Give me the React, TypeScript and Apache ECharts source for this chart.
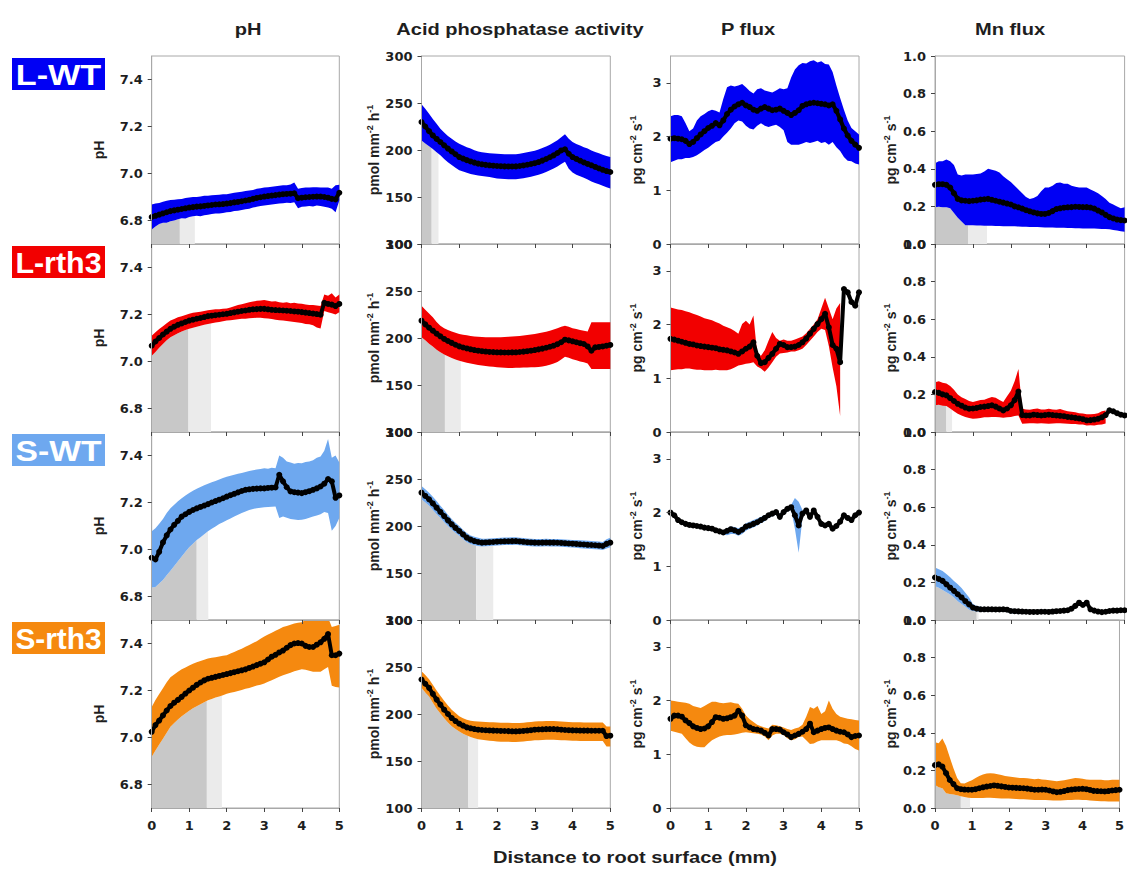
import React, { useEffect, useRef } from "react";
import * as echarts from "echarts";

// Distance to the root surface (mm), shared by every profile
const distance = [
  0, 0.1, 0.2, 0.3, 0.4, 0.5, 0.6, 0.7, 0.8, 0.9,
  1, 1.1, 1.2, 1.3, 1.4, 1.5, 1.6, 1.7, 1.8, 1.9,
  2, 2.1, 2.2, 2.3, 2.4, 2.5, 2.6, 2.7, 2.8, 2.9,
  3, 3.1, 3.2, 3.3, 3.4, 3.5, 3.6, 3.7, 3.8, 3.9,
  4, 4.1, 4.2, 4.3, 4.4, 4.5, 4.6, 4.7, 4.8, 4.9,
  5,
];

// ---------- L-WT ----------
const phLwtMean = [6.815,6.82,6.825,6.83,6.835,6.84,6.843,6.846,6.849,6.852,6.855,6.857,6.859,6.86,6.862,6.864,6.866,6.868,6.869,6.87,6.872,6.874,6.877,6.879,6.882,6.885,6.888,6.892,6.896,6.899,6.902,6.904,6.906,6.908,6.91,6.912,6.913,6.914,6.916,6.895,6.897,6.899,6.9,6.901,6.902,6.902,6.9,6.897,6.892,6.89,6.918];
const phLwtLow = [6.762,6.775,6.785,6.79,6.79,6.797,6.8,6.805,6.81,6.808,6.815,6.818,6.82,6.818,6.822,6.825,6.828,6.83,6.83,6.832,6.835,6.836,6.84,6.842,6.845,6.848,6.85,6.855,6.858,6.862,6.864,6.866,6.868,6.87,6.872,6.873,6.876,6.875,6.878,6.852,6.858,6.86,6.862,6.86,6.864,6.862,6.858,6.855,6.85,6.835,6.885];
const phLwtHigh = [6.868,6.872,6.875,6.88,6.884,6.887,6.888,6.89,6.892,6.896,6.898,6.9,6.9,6.902,6.905,6.905,6.907,6.909,6.91,6.912,6.912,6.915,6.918,6.92,6.922,6.926,6.928,6.93,6.935,6.937,6.94,6.942,6.944,6.946,6.948,6.95,6.95,6.953,6.962,6.935,6.938,6.94,6.94,6.942,6.942,6.94,6.94,6.94,6.935,6.95,6.952];

const acidLwtMean = [229.8,225,220,215.5,211.8,208.5,205,201.5,198.5,195.5,192.5,190.8,189.2,187.8,186.6,185.5,184.8,184.2,183.7,183.3,183,182.8,182.6,182.5,182.5,182.6,183,183.6,184.3,185.1,186,187.2,188.7,190.4,192.3,194.3,196.8,199.5,200.8,196,192.5,190.5,188.6,186.8,185.2,183.7,182,180.4,178.9,177.6,176.6];
const acidLwtLow = [210,207,204,201,197.5,194.3,190.5,187,184,181,178.4,177,175.8,174.6,173.6,173,172.4,171.8,171.2,170.6,169.8,169.4,169.1,169,168.9,169,169.4,170,170.8,171.6,172.5,173.6,175,176.7,178.4,180.2,182.5,185,187.5,180,176,173.8,172,170.4,168.5,166.5,165,163.5,162,160.5,159];
const acidLwtHigh = [248.6,244,238.5,233,228,222.7,218.5,215,212,209,206.7,204.8,203,201.5,199.8,198.3,197.5,197,196.5,196.2,196,195.8,195.6,195.5,195.5,195.6,196,196.7,197.5,198.3,199.2,200.5,202,203.7,205.7,208,210.5,213.5,216.8,212,208.5,206.5,204.8,203,201.5,199.5,198,196.5,195,193.5,192.5];

const pLwtMean = [1.96,1.97,1.96,1.95,1.92,1.86,1.9,1.97,2.04,2.1,2.16,2.2,2.25,2.21,2.3,2.42,2.5,2.56,2.6,2.63,2.58,2.55,2.5,2.48,2.52,2.55,2.52,2.49,2.5,2.52,2.48,2.44,2.4,2.44,2.49,2.57,2.6,2.62,2.63,2.62,2.61,2.6,2.58,2.6,2.48,2.32,2.15,2.02,1.92,1.85,1.79];
const pLwtLow = [1.52,1.55,1.58,1.58,1.6,1.6,1.62,1.65,1.7,1.75,1.79,1.85,1.9,1.92,2.0,2.07,2.15,2.25,2.3,2.28,2.2,2.15,2.13,2.2,2.25,2.2,2.18,2.2,2.22,2.18,2.12,1.9,1.85,1.85,1.85,1.87,1.9,1.88,1.9,1.92,1.88,1.9,1.85,1.9,1.8,1.73,1.62,1.55,1.54,1.5,1.48];
const pLwtHigh = [2.38,2.4,2.4,2.38,2.25,2.1,2.15,2.3,2.38,2.42,2.47,2.5,2.48,2.45,2.7,2.92,2.95,2.93,2.95,2.98,2.92,2.85,2.8,2.88,2.9,2.86,2.84,2.82,2.86,2.9,2.88,2.9,3.1,3.25,3.33,3.37,3.36,3.4,3.42,3.38,3.4,3.35,3.34,3.2,2.95,2.72,2.5,2.3,2.16,2.1,2.04];

const mnLwtMean = [0.315,0.318,0.318,0.315,0.3,0.27,0.24,0.232,0.23,0.228,0.23,0.232,0.236,0.238,0.24,0.235,0.23,0.225,0.22,0.215,0.21,0.2,0.195,0.188,0.18,0.174,0.168,0.163,0.16,0.16,0.165,0.175,0.186,0.19,0.193,0.195,0.196,0.198,0.197,0.196,0.196,0.194,0.188,0.178,0.168,0.155,0.143,0.136,0.13,0.127,0.125];
const mnLwtLow = [0.196,0.198,0.196,0.195,0.19,0.165,0.14,0.12,0.1,0.1,0.1,0.098,0.098,0.097,0.097,0.097,0.096,0.096,0.095,0.095,0.094,0.094,0.093,0.092,0.092,0.09,0.09,0.09,0.089,0.088,0.088,0.088,0.087,0.086,0.086,0.085,0.085,0.084,0.084,0.083,0.082,0.082,0.082,0.081,0.08,0.08,0.078,0.075,0.072,0.068,0.065];
const mnLwtHigh = [0.43,0.44,0.44,0.45,0.44,0.42,0.37,0.365,0.37,0.37,0.37,0.372,0.375,0.385,0.4,0.395,0.39,0.38,0.36,0.345,0.33,0.31,0.29,0.27,0.25,0.24,0.245,0.255,0.28,0.3,0.3,0.31,0.325,0.327,0.32,0.32,0.31,0.305,0.3,0.3,0.3,0.29,0.28,0.27,0.255,0.24,0.22,0.21,0.2,0.19,0.195];

// ---------- L-rth3 ----------
const phLrthMean = [7.067,7.085,7.1,7.115,7.127,7.139,7.148,7.156,7.162,7.168,7.174,7.178,7.182,7.185,7.189,7.193,7.195,7.197,7.199,7.201,7.203,7.206,7.209,7.212,7.215,7.217,7.22,7.222,7.223,7.224,7.224,7.222,7.22,7.219,7.218,7.217,7.216,7.215,7.213,7.212,7.21,7.208,7.206,7.204,7.202,7.199,7.25,7.245,7.242,7.236,7.245];
const phLrthLow = [7.024,7.04,7.058,7.075,7.09,7.103,7.112,7.12,7.128,7.134,7.139,7.144,7.148,7.152,7.156,7.16,7.163,7.166,7.168,7.171,7.174,7.176,7.178,7.18,7.182,7.182,7.184,7.185,7.186,7.186,7.184,7.183,7.181,7.178,7.176,7.175,7.172,7.17,7.168,7.166,7.164,7.16,7.158,7.154,7.145,7.14,7.215,7.21,7.205,7.2,7.21];
const phLrthHigh = [7.11,7.125,7.138,7.15,7.163,7.174,7.181,7.188,7.193,7.198,7.203,7.207,7.21,7.212,7.215,7.218,7.22,7.222,7.222,7.224,7.226,7.23,7.235,7.24,7.244,7.248,7.252,7.255,7.258,7.26,7.262,7.258,7.255,7.256,7.252,7.25,7.252,7.248,7.25,7.247,7.246,7.243,7.24,7.24,7.238,7.236,7.285,7.28,7.29,7.272,7.285];

const acidLrthMean = [218.4,214.5,211,207.8,204.6,201.8,199,196.8,194.8,192.8,191.1,189.9,188.9,188,187.2,186.5,186,185.6,185.2,185,184.8,184.7,184.6,184.6,184.7,184.8,185.1,185.5,186,186.5,187.2,187.9,188.7,189.6,190.7,191.8,193.4,195.5,198.2,197.5,196.5,195.5,194.5,193.6,191,186.5,190,190.5,191,191.8,192.6];
const acidLrthLow = [200.7,197.5,194,191,187.5,184.8,182.5,180.5,178.8,177.2,175.9,174.8,173.8,172.9,172,171.3,170.7,170.2,169.8,169.3,168.8,168.5,168.3,168.2,168.2,168.3,168.4,168.5,168.7,168.8,168.8,169.2,169.7,170.5,171.5,172.8,174.5,177,180,179,177.5,176.2,175,174.1,173,167,167,167,167,167,167];
const acidLrthHigh = [234.4,230,226,222,217,213,210.5,208.5,207,205.5,204.3,203.5,202.8,202.2,201.6,201.2,201,200.8,200.7,200.7,200.7,200.8,201,201.2,201.5,201.8,202.2,202.7,203.2,203.7,204.3,205,205.8,206.7,207.8,209,210.5,212,213,212,210.5,209.5,208.5,207.8,207,216.7,216.7,216.7,216.7,216.7,216.7];

const pLrthMean = [1.734,1.72,1.7,1.68,1.66,1.64,1.63,1.61,1.6,1.59,1.58,1.57,1.56,1.54,1.53,1.52,1.5,1.48,1.456,1.5,1.55,1.59,1.67,1.42,1.28,1.3,1.38,1.456,1.55,1.64,1.62,1.58,1.58,1.59,1.62,1.67,1.74,1.83,1.92,2.01,2.1,2.2,1.95,1.62,1.55,1.3,2.66,2.6,2.42,2.35,2.6];
const pLrthLow = [1.15,1.16,1.17,1.17,1.18,1.18,1.17,1.16,1.16,1.15,1.15,1.15,1.16,1.15,1.15,1.15,1.17,1.2,1.24,1.25,1.27,1.28,1.3,1.22,1.18,1.12,1.2,1.3,1.4,1.46,1.47,1.48,1.5,1.5,1.52,1.55,1.62,1.7,1.78,1.86,1.92,1.9,1.6,1.2,0.85,0.3,null,null,null,null,null];
const pLrthHigh = [2.32,2.3,2.28,2.27,2.25,2.23,2.2,2.18,2.15,2.12,2.1,2.08,2.05,2.02,1.98,1.95,1.92,1.88,1.83,2.01,2.07,2.0,2.17,1.45,1.42,1.52,1.7,1.86,1.75,1.7,1.72,1.7,1.7,1.72,1.75,1.78,1.84,1.92,2.0,2.1,2.3,2.5,2.3,2.1,2.3,2.4,null,null,null,null,null];

const mnLrthMean = [0.212,0.208,0.2,0.195,0.18,0.165,0.15,0.14,0.13,0.124,0.125,0.128,0.133,0.135,0.138,0.142,0.135,0.125,0.115,0.125,0.142,0.17,0.215,0.09,0.088,0.088,0.092,0.09,0.088,0.09,0.092,0.09,0.088,0.086,0.084,0.08,0.078,0.075,0.072,0.068,0.062,0.063,0.066,0.07,0.078,0.09,0.115,0.11,0.1,0.092,0.088];
const mnLrthLow = [0.142,0.145,0.14,0.138,0.125,0.11,0.097,0.088,0.08,0.075,0.07,0.072,0.075,0.078,0.078,0.08,0.08,0.078,0.076,0.078,0.08,0.085,0.088,0.044,0.045,0.046,0.046,0.045,0.046,0.045,0.044,0.045,0.046,0.046,0.045,0.044,0.042,0.042,0.04,0.04,0.035,0.036,0.035,0.038,0.04,0.045,null,null,null,null,null];
const mnLrthHigh = [0.265,0.27,0.262,0.258,0.245,0.225,0.2,0.185,0.175,0.165,0.16,0.165,0.17,0.172,0.18,0.186,0.182,0.17,0.16,0.19,0.22,0.27,0.335,0.124,0.12,0.118,0.122,0.125,0.12,0.12,0.124,0.12,0.118,0.122,0.116,0.11,0.108,0.105,0.1,0.098,0.095,0.094,0.096,0.1,0.11,0.115,null,null,null,null,null];

// ---------- S-WT ----------
const phSwtMean = [6.965,6.958,6.99,7.03,7.06,7.085,7.105,7.122,7.14,7.15,7.16,7.168,7.175,7.181,7.187,7.193,7.2,7.206,7.212,7.218,7.225,7.231,7.237,7.243,7.249,7.254,7.256,7.258,7.259,7.26,7.26,7.262,7.263,7.264,7.318,7.29,7.265,7.247,7.244,7.242,7.24,7.244,7.248,7.254,7.26,7.268,7.28,7.3,7.29,7.22,7.23];
const phSwtLow = [6.838,6.84,6.855,6.87,6.89,6.91,6.93,6.95,6.97,6.99,7.01,7.025,7.04,7.052,7.065,7.078,7.088,7.098,7.108,7.116,7.124,7.132,7.14,7.148,7.155,7.162,7.168,7.172,7.176,7.178,7.18,7.181,7.182,7.183,7.134,7.14,7.135,7.13,7.128,7.126,7.127,7.13,7.135,7.14,7.145,7.15,7.16,7.155,7.08,7.1,7.134];
const phSwtHigh = [7.078,7.09,7.11,7.13,7.155,7.176,7.19,7.205,7.218,7.23,7.24,7.25,7.258,7.266,7.273,7.28,7.286,7.292,7.298,7.304,7.31,7.314,7.318,7.322,7.326,7.33,7.334,7.337,7.34,7.343,7.346,7.344,7.348,7.346,7.4,7.39,7.375,7.37,7.365,7.368,7.367,7.372,7.375,7.38,7.39,7.396,7.42,7.47,7.39,7.4,7.37];

const acidSwtMean = [235.5,232,228.4,224,219.5,215,210.6,206,201.8,198,194.7,191,187.6,185.5,184,183,182.3,182.5,182.8,183,183.3,183.5,183.7,183.8,183.9,184,183.6,183.2,182.8,182.5,182.3,182.2,182.3,182.4,182.3,182.3,182.2,182,181.7,181.4,181.2,180.9,180.6,180.3,180,179.8,179.5,179.2,178.7,181,182.3];
const acidSwtLow = [228.4,225,221.5,217,212.5,208.5,204,200,196,192.5,189.5,186,182.8,180.8,179.5,178.7,178.2,178.5,178.8,179,179.3,179.5,179.7,179.8,179.9,180,179.6,179.2,178.8,178.5,178.3,178.2,178.3,178.4,178.3,178.3,178.2,178,177.7,177.4,177.2,176.8,176.4,176,175.7,175.5,175.2,175,174.5,176,177.5];
const acidSwtHigh = [242.6,239,235.5,231,226.5,221.5,217,212,207.5,203.5,200,196,192.5,190,188.5,187.5,186.5,186.5,186.8,187,187.3,187.5,187.7,187.8,187.9,188,187.6,187.2,186.8,186.5,186.3,186.2,186.3,186.4,186.3,186.3,186.2,186,185.7,185.4,185.2,185,184.8,184.5,184.3,184,183.8,183.5,183,186,187.5];

const pSwtMean = [2.0,1.95,1.86,1.82,1.79,1.77,1.76,1.75,1.74,1.72,1.71,1.7,1.67,1.65,1.63,1.66,1.69,1.67,1.64,1.68,1.74,1.76,1.79,1.82,1.86,1.9,1.95,1.98,2.01,1.92,2.01,2.07,2.1,1.95,1.76,1.98,2.04,1.92,2.04,1.92,1.79,1.76,1.79,1.7,1.75,1.83,1.95,1.9,1.86,1.95,2.0];
const pSwtLow = [1.97,1.92,1.83,1.79,1.76,1.74,1.73,1.72,1.71,1.69,1.68,1.67,1.64,1.62,1.59,1.58,1.6,1.6,1.57,1.6,1.66,1.7,1.72,1.76,1.8,1.84,1.9,1.93,1.96,1.86,1.96,2.02,2.05,1.7,1.25,1.9,null,null,null,null,null,null,null,null,null,null,null,null,null,null,null];
const pSwtHigh = [2.03,1.98,1.89,1.85,1.82,1.8,1.79,1.78,1.77,1.75,1.74,1.73,1.7,1.68,1.67,1.71,1.74,1.73,1.71,1.74,1.8,1.83,1.86,1.89,1.92,1.95,1.99,2.02,2.05,1.98,2.05,2.1,2.14,2.27,2.2,2.05,null,null,null,null,null,null,null,null,null,null,null,null,null,null,null];

const mnSwtMean = [0.226,0.218,0.208,0.19,0.172,0.155,0.137,0.12,0.1,0.083,0.066,0.06,0.057,0.057,0.057,0.057,0.056,0.056,0.057,0.055,0.048,0.047,0.046,0.045,0.044,0.043,0.043,0.043,0.044,0.044,0.043,0.045,0.047,0.048,0.05,0.052,0.06,0.075,0.092,0.08,0.092,0.057,0.05,0.045,0.042,0.044,0.048,0.05,0.05,0.052,0.052];
const mnSwtLow = [0.18,0.172,0.16,0.148,0.135,0.12,0.1,0.085,0.07,0.055,0.048,0.045,0.044,0.045,0.045,0.045,0.044,0.044,0.044,0.042,0.036,0.035,0.035,0.034,0.033,0.032,0.032,0.032,0.033,0.033,0.033,0.035,0.037,null,null,null,null,null,null,null,null,null,null,null,null,null,null,null,null,null,null];
const mnSwtHigh = [0.279,0.27,0.26,0.245,0.228,0.208,0.19,0.17,0.145,0.12,0.085,0.075,0.07,0.068,0.068,0.068,0.066,0.066,0.066,0.064,0.06,0.058,0.056,0.055,0.054,0.053,0.053,0.053,0.054,0.054,0.053,0.054,0.056,null,null,null,null,null,null,null,null,null,null,null,null,null,null,null,null,null,null];

// ---------- S-rth3 ----------
const phSrthMean = [7.024,7.053,7.072,7.094,7.115,7.134,7.148,7.16,7.173,7.187,7.2,7.212,7.224,7.234,7.243,7.25,7.254,7.258,7.262,7.266,7.27,7.274,7.278,7.282,7.286,7.29,7.296,7.302,7.308,7.314,7.32,7.332,7.344,7.352,7.362,7.37,7.382,7.393,7.4,7.402,7.4,7.39,7.385,7.385,7.395,7.405,7.42,7.44,7.35,7.35,7.357];
const phSrthLow = [6.918,6.945,6.97,6.995,7.02,7.046,7.062,7.077,7.09,7.102,7.114,7.124,7.133,7.142,7.15,7.158,7.164,7.17,7.175,7.18,7.186,7.19,7.194,7.198,7.202,7.207,7.211,7.216,7.221,7.225,7.23,7.237,7.244,7.251,7.258,7.265,7.27,7.276,7.282,7.286,7.29,7.288,7.284,7.28,7.28,7.28,7.29,7.3,7.22,7.215,7.213];
const phSrthHigh = [7.13,7.16,7.185,7.21,7.235,7.256,7.268,7.28,7.29,7.298,7.306,7.314,7.32,7.326,7.331,7.336,7.339,7.342,7.345,7.348,7.35,7.357,7.364,7.371,7.378,7.386,7.394,7.402,7.41,7.42,7.43,7.438,7.446,7.454,7.462,7.47,7.475,7.48,7.485,7.488,7.49,7.5,7.51,7.51,7.52,7.52,7.52,7.51,7.47,7.475,7.48];

const acidSrthMean = [236.7,232.2,227.8,221.5,215.3,210,204.6,200,195.7,192.5,189.7,187.6,185.8,184.8,184,183.3,183,182.7,182.5,182.3,182.2,182,181.9,181.8,181.6,181.5,181.7,182,182.4,182.8,183.3,183.5,183.7,183.9,184,184,183.7,183.3,183,182.8,182.6,182.5,182.4,182.3,182.3,182.2,182.2,182.2,182.2,176.5,176.9];
const acidSrthLow = [227.8,223,218.5,212,205.5,200.5,195.5,191,187,184,181.5,179,177,175.5,174.2,173.2,172.5,172,171.6,171.2,170.8,170.6,170.5,170.4,170.3,170.3,170.5,170.8,171.2,171.6,172,172.2,172.4,172.5,172.6,172.6,172.4,172.2,172,171.8,171.6,171.5,171.4,171.4,171.4,171.4,171.4,171.4,171.4,165.5,165.5];
const acidSrthHigh = [245.6,241.5,237,231,225,219.5,214,209,204.5,201,197.5,195.5,193.8,192.8,192.2,192,191.8,191.5,191.3,191.1,191,190.8,190.7,190.6,190.4,190.3,190.5,190.8,191.2,191.6,192,192.2,192.4,192.5,192.6,192.6,192.4,192,191.7,191.5,191.3,191.2,191.1,191,191,191,191,191,191,186.8,186.8];

const pSrthMean = [1.66,1.72,1.72,1.7,1.63,1.58,1.52,1.49,1.47,1.48,1.52,1.6,1.69,1.68,1.66,1.67,1.69,1.72,1.81,1.72,1.54,1.5,1.47,1.46,1.44,1.4,1.35,1.47,1.47,1.46,1.41,1.37,1.32,1.35,1.38,1.42,1.47,1.57,1.41,1.44,1.47,1.49,1.5,1.47,1.44,1.42,1.41,1.37,1.32,1.34,1.35];
const pSrthLow = [1.44,1.42,1.4,1.38,1.3,1.22,1.17,1.14,1.13,1.13,1.2,1.26,1.3,1.33,1.35,1.36,1.36,1.37,1.38,1.4,1.41,1.4,1.39,1.38,1.37,1.33,1.26,1.35,1.38,1.38,1.36,1.3,1.26,1.28,1.32,1.33,1.26,1.19,1.2,1.24,1.26,1.26,1.26,1.26,1.26,1.24,1.2,1.19,1.15,1.1,1.07];
const pSrthHigh = [2.0,1.99,1.98,1.97,1.96,1.94,1.9,1.88,1.86,1.9,1.94,1.98,1.98,1.96,1.95,1.96,1.97,1.95,1.94,1.85,1.72,1.65,1.6,1.55,1.52,1.5,1.48,1.55,1.54,1.52,1.5,1.47,1.45,1.48,1.5,1.55,1.7,1.88,1.85,1.9,1.75,1.8,2.0,1.85,1.75,1.7,1.68,1.66,1.65,1.64,1.63];

const mnSrthMean = [0.228,0.232,0.22,0.185,0.149,0.127,0.105,0.1,0.098,0.097,0.097,0.1,0.105,0.11,0.114,0.117,0.12,0.118,0.115,0.112,0.109,0.108,0.107,0.106,0.105,0.103,0.1,0.097,0.097,0.098,0.097,0.093,0.088,0.084,0.086,0.09,0.095,0.098,0.1,0.101,0.102,0.1,0.096,0.091,0.09,0.089,0.088,0.09,0.093,0.095,0.097];
const mnSrthLow = [0.123,0.11,0.105,0.079,0.075,0.072,0.068,0.063,0.058,0.055,0.053,0.053,0.053,0.053,0.054,0.054,0.053,0.052,0.051,0.05,0.05,0.049,0.048,0.047,0.046,0.045,0.044,0.043,0.042,0.042,0.042,0.041,0.04,0.04,0.04,0.041,0.042,0.043,0.044,0.044,0.043,0.042,0.04,0.038,0.037,0.036,0.036,0.035,0.035,0.035,0.035];
const mnSrthHigh = [0.35,0.345,0.37,0.33,0.27,0.211,0.16,0.132,0.13,0.14,0.148,0.16,0.17,0.178,0.183,0.185,0.183,0.18,0.175,0.17,0.168,0.165,0.162,0.16,0.16,0.158,0.155,0.153,0.155,0.152,0.15,0.148,0.145,0.142,0.145,0.148,0.152,0.155,0.16,0.158,0.155,0.152,0.15,0.15,0.15,0.15,0.148,0.148,0.15,0.15,0.15];

// Root-influenced zones (mm): [dark zone end, light zone end] for each line
const phZones = [[0.75, 1.15], [0.98, 1.58], [1.2, 1.51], [1.47, 1.87]];
const acidZones = [[0.27, 0.45], [0.62, 1.04], [1.45, 1.9], [1.24, 1.5]];
const mnZones = [[0.87, 1.37], [0.3, 0.45], [1.1, 1.15], [0.7, 0.95]];

// Tick labels
const phTicks = [6.8, 7.0, 7.2, 7.4];
const acidTicks = [100, 150, 200, 250, 300];
const fluxTicks = [0, 1, 2, 3];
const mnTicks = [0, 0.2, 0.4, 0.6, 0.8, 1.0];

const lineNames = ["L-WT", "L-rth3", "S-WT", "S-rth3"];
const lineColors = ["#0000f4", "#f20000", "#6ea8ef", "#f5890f"];
const columnTitles = ["pH", "Acid phosphatase activity", "P flux", "Mn flux"];

const ARIAL = '"Liberation Sans", Arial, Helvetica, sans-serif';
const WIDE = '"DejaVu Sans", Verdana, sans-serif';
const INK = "#1e1e1e";

const colLeft = [151.7, 421.5, 670.5, 935];
const colWidth = [187.6, 188.8, 188.5, 189.6];
const rowTop = [56, 244, 432, 620];
const rowHeight = 188;
const titleX = [248, 520, 748, 1010];
const unitX = [99, 374, 637, 891];
const nameStretch = [1.18, 1.05, 1.16, 1.03];

const columnAxes = [
  { min: 6.7, max: 7.5, ticks: phTicks, digits: 1 },
  { min: 100, max: 300, ticks: acidTicks, digits: 0 },
  { min: 0, max: 3.5, ticks: fluxTicks, digits: 0 },
  { min: 0, max: 1, ticks: mnTicks, digits: 1 },
];

type Panel = {
  row: number;
  col: number;
  mean: number[];
  low: (number | null)[];
  high: (number | null)[];
  zone: number[] | null;
};

const panels: Panel[] = [
  { row: 0, col: 0, mean: phLwtMean, low: phLwtLow, high: phLwtHigh, zone: phZones[0] },
  { row: 0, col: 1, mean: acidLwtMean, low: acidLwtLow, high: acidLwtHigh, zone: acidZones[0] },
  { row: 0, col: 2, mean: pLwtMean, low: pLwtLow, high: pLwtHigh, zone: null },
  { row: 0, col: 3, mean: mnLwtMean, low: mnLwtLow, high: mnLwtHigh, zone: mnZones[0] },
  { row: 1, col: 0, mean: phLrthMean, low: phLrthLow, high: phLrthHigh, zone: phZones[1] },
  { row: 1, col: 1, mean: acidLrthMean, low: acidLrthLow, high: acidLrthHigh, zone: acidZones[1] },
  { row: 1, col: 2, mean: pLrthMean, low: pLrthLow, high: pLrthHigh, zone: null },
  { row: 1, col: 3, mean: mnLrthMean, low: mnLrthLow, high: mnLrthHigh, zone: mnZones[1] },
  { row: 2, col: 0, mean: phSwtMean, low: phSwtLow, high: phSwtHigh, zone: phZones[2] },
  { row: 2, col: 1, mean: acidSwtMean, low: acidSwtLow, high: acidSwtHigh, zone: acidZones[2] },
  { row: 2, col: 2, mean: pSwtMean, low: pSwtLow, high: pSwtHigh, zone: null },
  { row: 2, col: 3, mean: mnSwtMean, low: mnSwtLow, high: mnSwtHigh, zone: mnZones[2] },
  { row: 3, col: 0, mean: phSrthMean, low: phSrthLow, high: phSrthHigh, zone: phZones[3] },
  { row: 3, col: 1, mean: acidSrthMean, low: acidSrthLow, high: acidSrthHigh, zone: acidZones[3] },
  { row: 3, col: 2, mean: pSrthMean, low: pSrthLow, high: pSrthHigh, zone: null },
  { row: 3, col: 3, mean: mnSrthMean, low: mnSrthLow, high: mnSrthHigh, zone: mnZones[3] },
];

// Linear interpolation of a profile at an arbitrary distance
function valueAt(arr: (number | null)[], d: number): number {
  let j = 0;
  while (j < distance.length - 2 && distance[j + 1] < d) j++;
  const a = arr[j] as number;
  const b = arr[j + 1] as number;
  const t = (d - distance[j]) / (distance[j + 1] - distance[j]);
  return a + (b - a) * t;
}

// Points of the lower band edge between two distances (for the shaded root zone)
function zoneSegment(low: (number | null)[], from: number, to: number) {
  const pts: number[][] = [[from, valueAt(low, from)]];
  distance.forEach((d, i) => {
    if (d > from + 1e-6 && d < to - 1e-6) pts.push([d, low[i] as number]);
  });
  pts.push([to, valueAt(low, to)]);
  return pts;
}

// Draws the low–high envelope as filled polygons, broken where the envelope is missing
function bandRenderer(p: Panel, color: string) {
  return (_params: any, api: any) => {
    const children: any[] = [];
    let upper: number[][] = [];
    let lower: number[][] = [];
    const flush = () => {
      if (upper.length > 1) {
        children.push({
          type: "polygon",
          shape: { points: upper.concat(lower.slice().reverse()) },
          style: { fill: color },
        });
      }
      upper = [];
      lower = [];
    };
    distance.forEach((d, i) => {
      const lo = p.low[i];
      const hi = p.high[i];
      if (lo == null || hi == null) {
        flush();
        return;
      }
      upper.push(api.coord([d, hi]));
      lower.push(api.coord([d, lo]));
    });
    flush();
    return { type: "group", children };
  };
}

function unitText(col: number) {
  if (col === 0) return "{a|pH}";
  if (col === 1) return "{a|pmol mm}{s|-2}{a| h}{s|-1}";
  return "{a|pg cm}{s|-2}{a| s}{s|-1}";
}

function buildOption() {
  const grid: any[] = [];
  const xAxis: any[] = [];
  const yAxis: any[] = [];
  const series: any[] = [];

  panels.forEach((p, k) => {
    const ax = columnAxes[p.col];
    const color = lineColors[p.row];
    grid.push({
      left: colLeft[p.col],
      top: rowTop[p.row],
      width: colWidth[p.col],
      height: rowHeight,
      show: true,
      borderColor: "#a8a8a8",
      borderWidth: 1,
      backgroundColor: "transparent",
    });
    xAxis.push({
      gridIndex: k,
      type: "value",
      min: 0,
      max: 5,
      interval: 1,
      z: 5,
      axisLine: { show: true, lineStyle: { color: "#a8a8a8", width: 1 } },
      axisTick: { show: true, inside: false, length: 4, lineStyle: { color: "#444" } },
      axisLabel: {
        show: p.row === 3,
        margin: 11,
        fontFamily: WIDE,
        fontWeight: "bold",
        fontSize: 13,
        color: INK,
      },
      splitLine: { show: false },
    });
    yAxis.push({
      gridIndex: k,
      type: "value",
      min: ax.min,
      max: ax.max,
      z: 5,
      axisLine: { show: true, lineStyle: { color: "#a8a8a8", width: 1 } },
      axisTick: {
        show: true,
        inside: false,
        length: 4,
        customValues: ax.ticks,
        lineStyle: { color: "#444" },
      },
      axisLabel: {
        show: true,
        customValues: ax.ticks,
        margin: 9,
        fontFamily: WIDE,
        fontWeight: "bold",
        fontSize: 13,
        color: INK,
        formatter: (v: number) => v.toFixed(ax.digits),
      },
      splitLine: { show: false },
    });

    // shaded root zones beneath the envelope
    if (p.zone) {
      series.push({
        type: "line",
        xAxisIndex: k,
        yAxisIndex: k,
        data: zoneSegment(p.low, 0, p.zone[0]),
        symbol: "none",
        lineStyle: { width: 0, opacity: 0 },
        areaStyle: { color: "#c8c8c8", opacity: 1, origin: "start" },
        silent: true,
        z: 1,
      });
      series.push({
        type: "line",
        xAxisIndex: k,
        yAxisIndex: k,
        data: zoneSegment(p.low, p.zone[0], p.zone[1]),
        symbol: "none",
        lineStyle: { width: 0, opacity: 0 },
        areaStyle: { color: "#ebebeb", opacity: 1, origin: "start" },
        silent: true,
        z: 1,
      });
    }

    // variability envelope
    series.push({
      type: "custom",
      xAxisIndex: k,
      yAxisIndex: k,
      data: [[0, ax.min]],
      clip: true,
      silent: true,
      renderItem: bandRenderer(p, color),
      z: 2,
    });

    // mean profile
    series.push({
      type: "line",
      xAxisIndex: k,
      yAxisIndex: k,
      data: distance.map((d, i) => [d, p.mean[i]]),
      symbol: "circle",
      symbolSize: 6,
      showSymbol: true,
      itemStyle: { color: "#000" },
      lineStyle: { color: "#000", width: 4 },
      silent: true,
      z: 3,
    });
  });

  const graphic: any[] = [];
  columnTitles.forEach((t, c) => {
    graphic.push({
      type: "text",
      x: titleX[c],
      y: 29,
      scaleX: 1.18,
      style: {
        text: t,
        fontFamily: ARIAL,
        fontWeight: "bold",
        fontSize: 17,
        fill: INK,
        align: "center",
        verticalAlign: "middle",
        textAlign: "center",
        textVerticalAlign: "middle",
      },
    });
  });
  lineNames.forEach((name, r) => {
    graphic.push({
      type: "rect",
      shape: { x: 12, y: rowTop[r] + 2, width: 93, height: 32 },
      style: { fill: lineColors[r] },
    });
    graphic.push({
      type: "text",
      x: 58.5,
      y: rowTop[r] + 19,
      scaleX: nameStretch[r],
      style: {
        text: name,
        fontFamily: ARIAL,
        fontWeight: "bold",
        fontSize: 29,
        fill: "#ffffff",
        align: "center",
        verticalAlign: "middle",
        textAlign: "center",
        textVerticalAlign: "middle",
      },
    });
    for (let c = 0; c < 4; c++) {
      graphic.push({
        type: "text",
        x: unitX[c],
        y: rowTop[r] + rowHeight / 2,
        rotation: Math.PI / 2,
        style: {
          text: unitText(c),
          align: "center",
          verticalAlign: "middle",
          textAlign: "center",
          textVerticalAlign: "middle",
          rich: {
            a: { fontFamily: ARIAL, fontWeight: "bold", fontSize: 14, fill: INK, color: INK, lineHeight: 18 },
            s: { fontFamily: ARIAL, fontWeight: "bold", fontSize: 9, fill: INK, color: INK, lineHeight: 11, verticalAlign: "top" },
          },
        },
      });
    }
  });
  graphic.push({
    type: "text",
    x: 635,
    y: 857,
    scaleX: 1.18,
    style: {
      text: "Distance to root surface (mm)",
      fontFamily: ARIAL,
      fontWeight: "bold",
      fontSize: 17,
      fill: INK,
      align: "center",
      verticalAlign: "middle",
      textAlign: "center",
      textVerticalAlign: "middle",
    },
  });

  return {
    animation: false,
    backgroundColor: "#ffffff",
    grid,
    xAxis,
    yAxis,
    series,
    graphic,
  };
}

export default function App() {
  const ref = useRef<HTMLDivElement>(null);
  useEffect(() => {
    const chart = echarts.init(ref.current as HTMLDivElement, null, { renderer: "svg" });
    chart.setOption(buildOption() as any);
    return () => chart.dispose();
  }, []);
  return (
    <div
      ref={ref}
      style={{ position: "fixed", left: 0, top: 0, width: 1127, height: 871, background: "#fff" }}
    />
  );
}
